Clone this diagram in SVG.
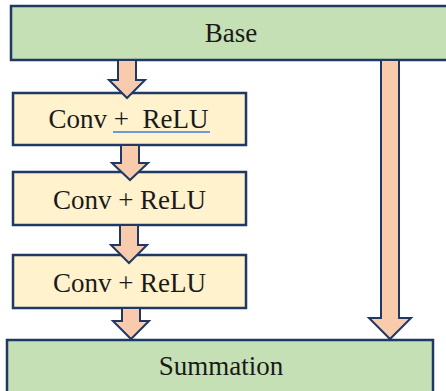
<svg xmlns="http://www.w3.org/2000/svg" width="446" height="391" viewBox="0 0 446 391">
<style>
.box{stroke:#1f3864;stroke-width:2.5}
.green{fill:#c5e0b4}
.yellow{fill:#fff2cc}
.lbl{font-family:"Liberation Serif","Times New Roman",serif;font-size:27px;fill:#1a1a1a;text-anchor:middle;white-space:pre}
.arrow{fill:#f8cbad;stroke:#1f3864;stroke-width:2;stroke-linejoin:miter}
</style>
<rect width="446" height="391" fill="#ffffff"/>
<g id="base">
<rect class="box green" x="11" y="6" width="445" height="54"/>
<text class="lbl" x="231" y="42">Base</text>
</g>
<g id="conv1">
<rect class="box yellow" x="13" y="93" width="233" height="52"/>
<text class="lbl" x="128.5" y="128" xml:space="preserve">Conv +  ReLU</text>
<line x1="113" y1="132" x2="210" y2="132" stroke="#3a78e0" stroke-width="1.3"/>
</g>
<g id="conv2">
<rect class="box yellow" x="13" y="172" width="233" height="53"/>
<text class="lbl" x="129.5" y="209">Conv + ReLU</text>
</g>
<g id="conv3">
<rect class="box yellow" x="13" y="255" width="233" height="53"/>
<text class="lbl" x="129.5" y="292">Conv + ReLU</text>
</g>
<g id="summation">
<rect class="box green" x="7" y="340" width="426" height="60"/>
<text class="lbl" x="221" y="375">Summation</text>
</g>
<g id="connectors">
<path class="arrow" d="M118,60 L136,60 L136,80 L145,80 L127,98 L109,80 L118,80 Z"/>
<path class="arrow" d="M121,145 L139,145 L139,163 L148,163 L130,180 L112,163 L121,163 Z"/>
<path class="arrow" d="M120,225 L138,225 L138,245 L147,245 L129,263 L111,245 L120,245 Z"/>
<path class="arrow" d="M122,308 L140,308 L140,321 L149,321 L131,339 L113,321 L122,321 Z"/>
<path class="arrow" d="M381,60 L399,60 L399,318 L411,318 L390,339 L369,318 L381,318 Z"/>
</g>
</svg>
